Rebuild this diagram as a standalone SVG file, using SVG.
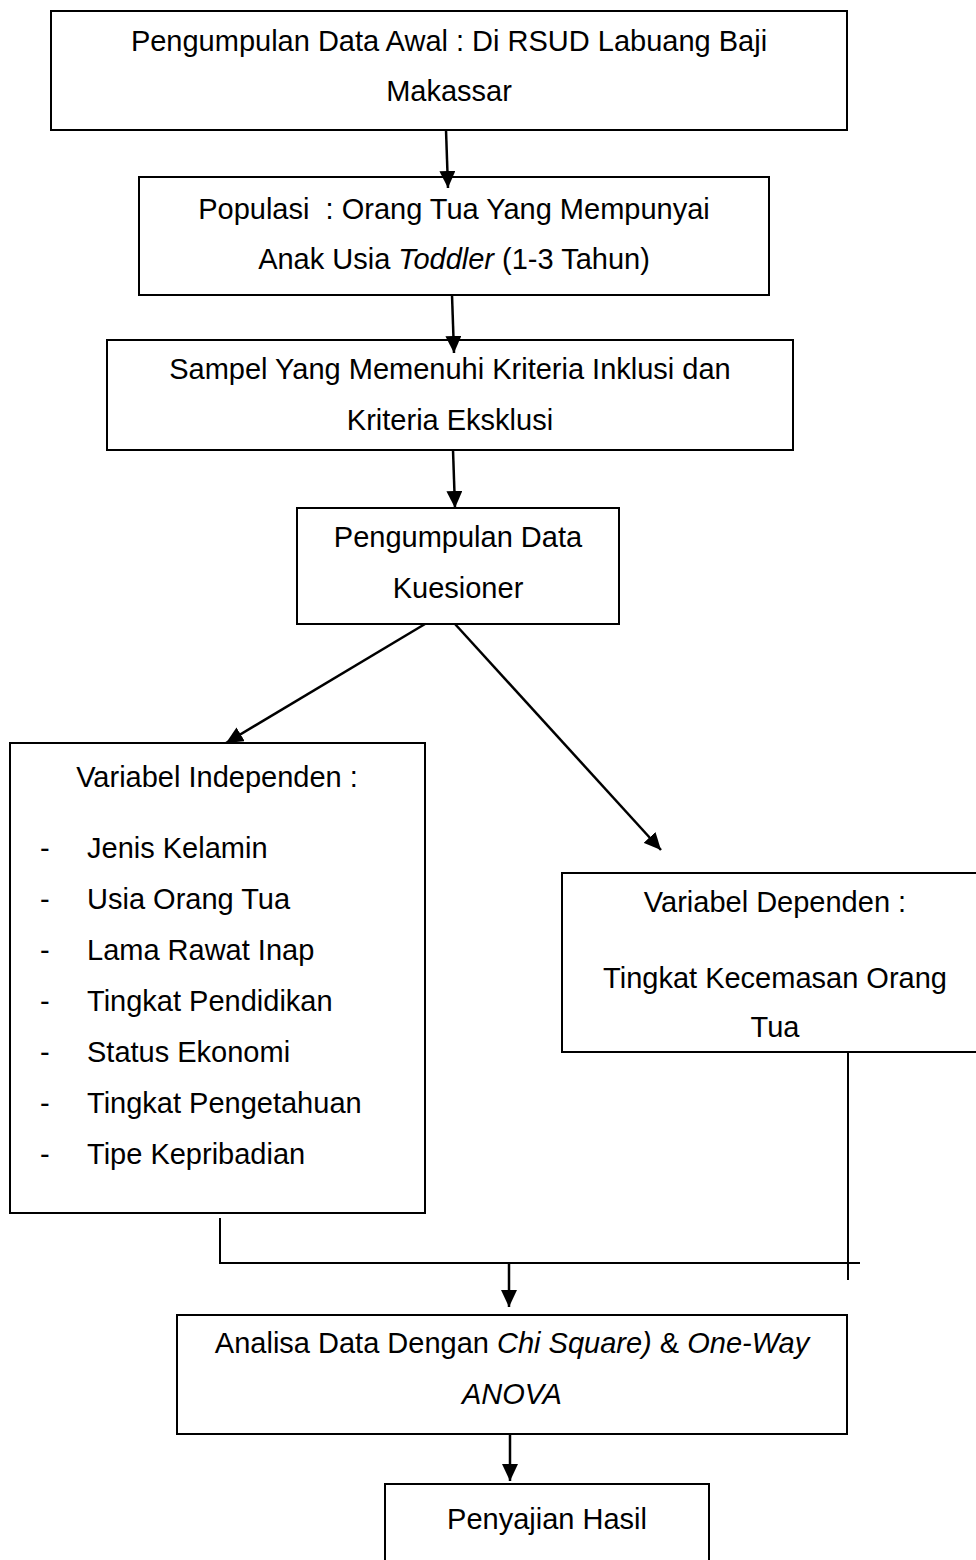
<svg xmlns="http://www.w3.org/2000/svg" width="976" height="1560" viewBox="0 0 976 1560">
<defs>
<marker id="ah" markerWidth="17" markerHeight="16" refX="17" refY="8" orient="auto" markerUnits="userSpaceOnUse" viewBox="0 0 17 16">
<path d="M0,0 L17,8 L0,16 z" fill="#000"/>
</marker>
<style>
.box{fill:#fff;stroke:#000;stroke-width:2}
.t{font-family:"Liberation Sans",Arial,sans-serif;font-size:29px;fill:#000;white-space:pre}
.c{text-anchor:middle}
.i{font-style:italic}
.ln{fill:none;stroke:#000;stroke-width:2}
.ar{fill:none;stroke:#000;stroke-width:2.5;marker-end:url(#ah)}
</style>
</defs>
<rect width="976" height="1560" fill="#fff"/>
<g id="n1">
<rect class="box" x="51" y="11" width="796" height="119"/>
<text class="t c" x="449" y="51">Pengumpulan Data Awal : Di RSUD Labuang Baji</text>
<text class="t c" x="449" y="101">Makassar</text>
</g>
<g id="n2">
<rect class="box" x="139" y="177" width="630" height="118"/>
<text class="t c" x="454" y="219" xml:space="preserve">Populasi  : Orang Tua Yang Mempunyai</text>
<text class="t c" x="454" y="269">Anak Usia <tspan class="i">Toddler</tspan> (1-3 Tahun)</text>
</g>
<g id="n3">
<rect class="box" x="107" y="340" width="686" height="110"/>
<text class="t c" x="450" y="379">Sampel Yang Memenuhi Kriteria Inklusi dan</text>
<text class="t c" x="450" y="430">Kriteria Eksklusi</text>
</g>
<g id="n4">
<rect class="box" x="297" y="508" width="322" height="116"/>
<text class="t c" x="458" y="547">Pengumpulan Data</text>
<text class="t c" x="458" y="598">Kuesioner</text>
</g>
<g id="n5">
<rect class="box" x="10" y="743" width="415" height="470"/>
<text class="t c" x="217" y="787">Variabel Independen :</text>
<text class="t" x="40" y="858">-</text><text class="t" x="87" y="858">Jenis Kelamin</text>
<text class="t" x="40" y="909">-</text><text class="t" x="87" y="909">Usia Orang Tua</text>
<text class="t" x="40" y="960">-</text><text class="t" x="87" y="960">Lama Rawat Inap</text>
<text class="t" x="40" y="1011">-</text><text class="t" x="87" y="1011">Tingkat Pendidikan</text>
<text class="t" x="40" y="1062">-</text><text class="t" x="87" y="1062">Status Ekonomi</text>
<text class="t" x="40" y="1113">-</text><text class="t" x="87" y="1113">Tingkat Pengetahuan</text>
<text class="t" x="40" y="1164">-</text><text class="t" x="87" y="1164">Tipe Kepribadian</text>
</g>
<g id="n6">
<rect class="box" x="562" y="873" width="426" height="179"/>
<text class="t c" x="775" y="912">Variabel Dependen :</text>
<text class="t c" x="775" y="988">Tingkat Kecemasan Orang</text>
<text class="t c" x="775" y="1037">Tua</text>
</g>
<g id="n7">
<rect class="box" x="177" y="1315" width="670" height="119"/>
<text class="t c" x="512" y="1353">Analisa Data Dengan <tspan class="i">Chi Square)</tspan> &amp; <tspan class="i">One-Way</tspan></text>
<text class="t c i" x="512" y="1404">ANOVA</text>
</g>
<g id="n8">
<rect class="box" x="385" y="1484" width="324" height="90"/>
<text class="t c" x="547" y="1529">Penyajian Hasil</text>
</g>
<g id="connectors">
<path class="ar" d="M446,130 L448,188"/>
<path class="ar" d="M452,295 L454,353"/>
<path class="ar" d="M453,450 L455,508"/>
<path class="ar" d="M425,624 L226,743"/>
<path class="ar" d="M455,624 L661,850"/>
<path class="ln" d="M220,1218 L220,1263 L860,1263"/>
<path class="ln" d="M848,1052 L848,1280"/>
<path class="ar" d="M509,1263 L509,1307"/>
<path class="ar" d="M510,1434 L510,1481"/>
</g>
</svg>
